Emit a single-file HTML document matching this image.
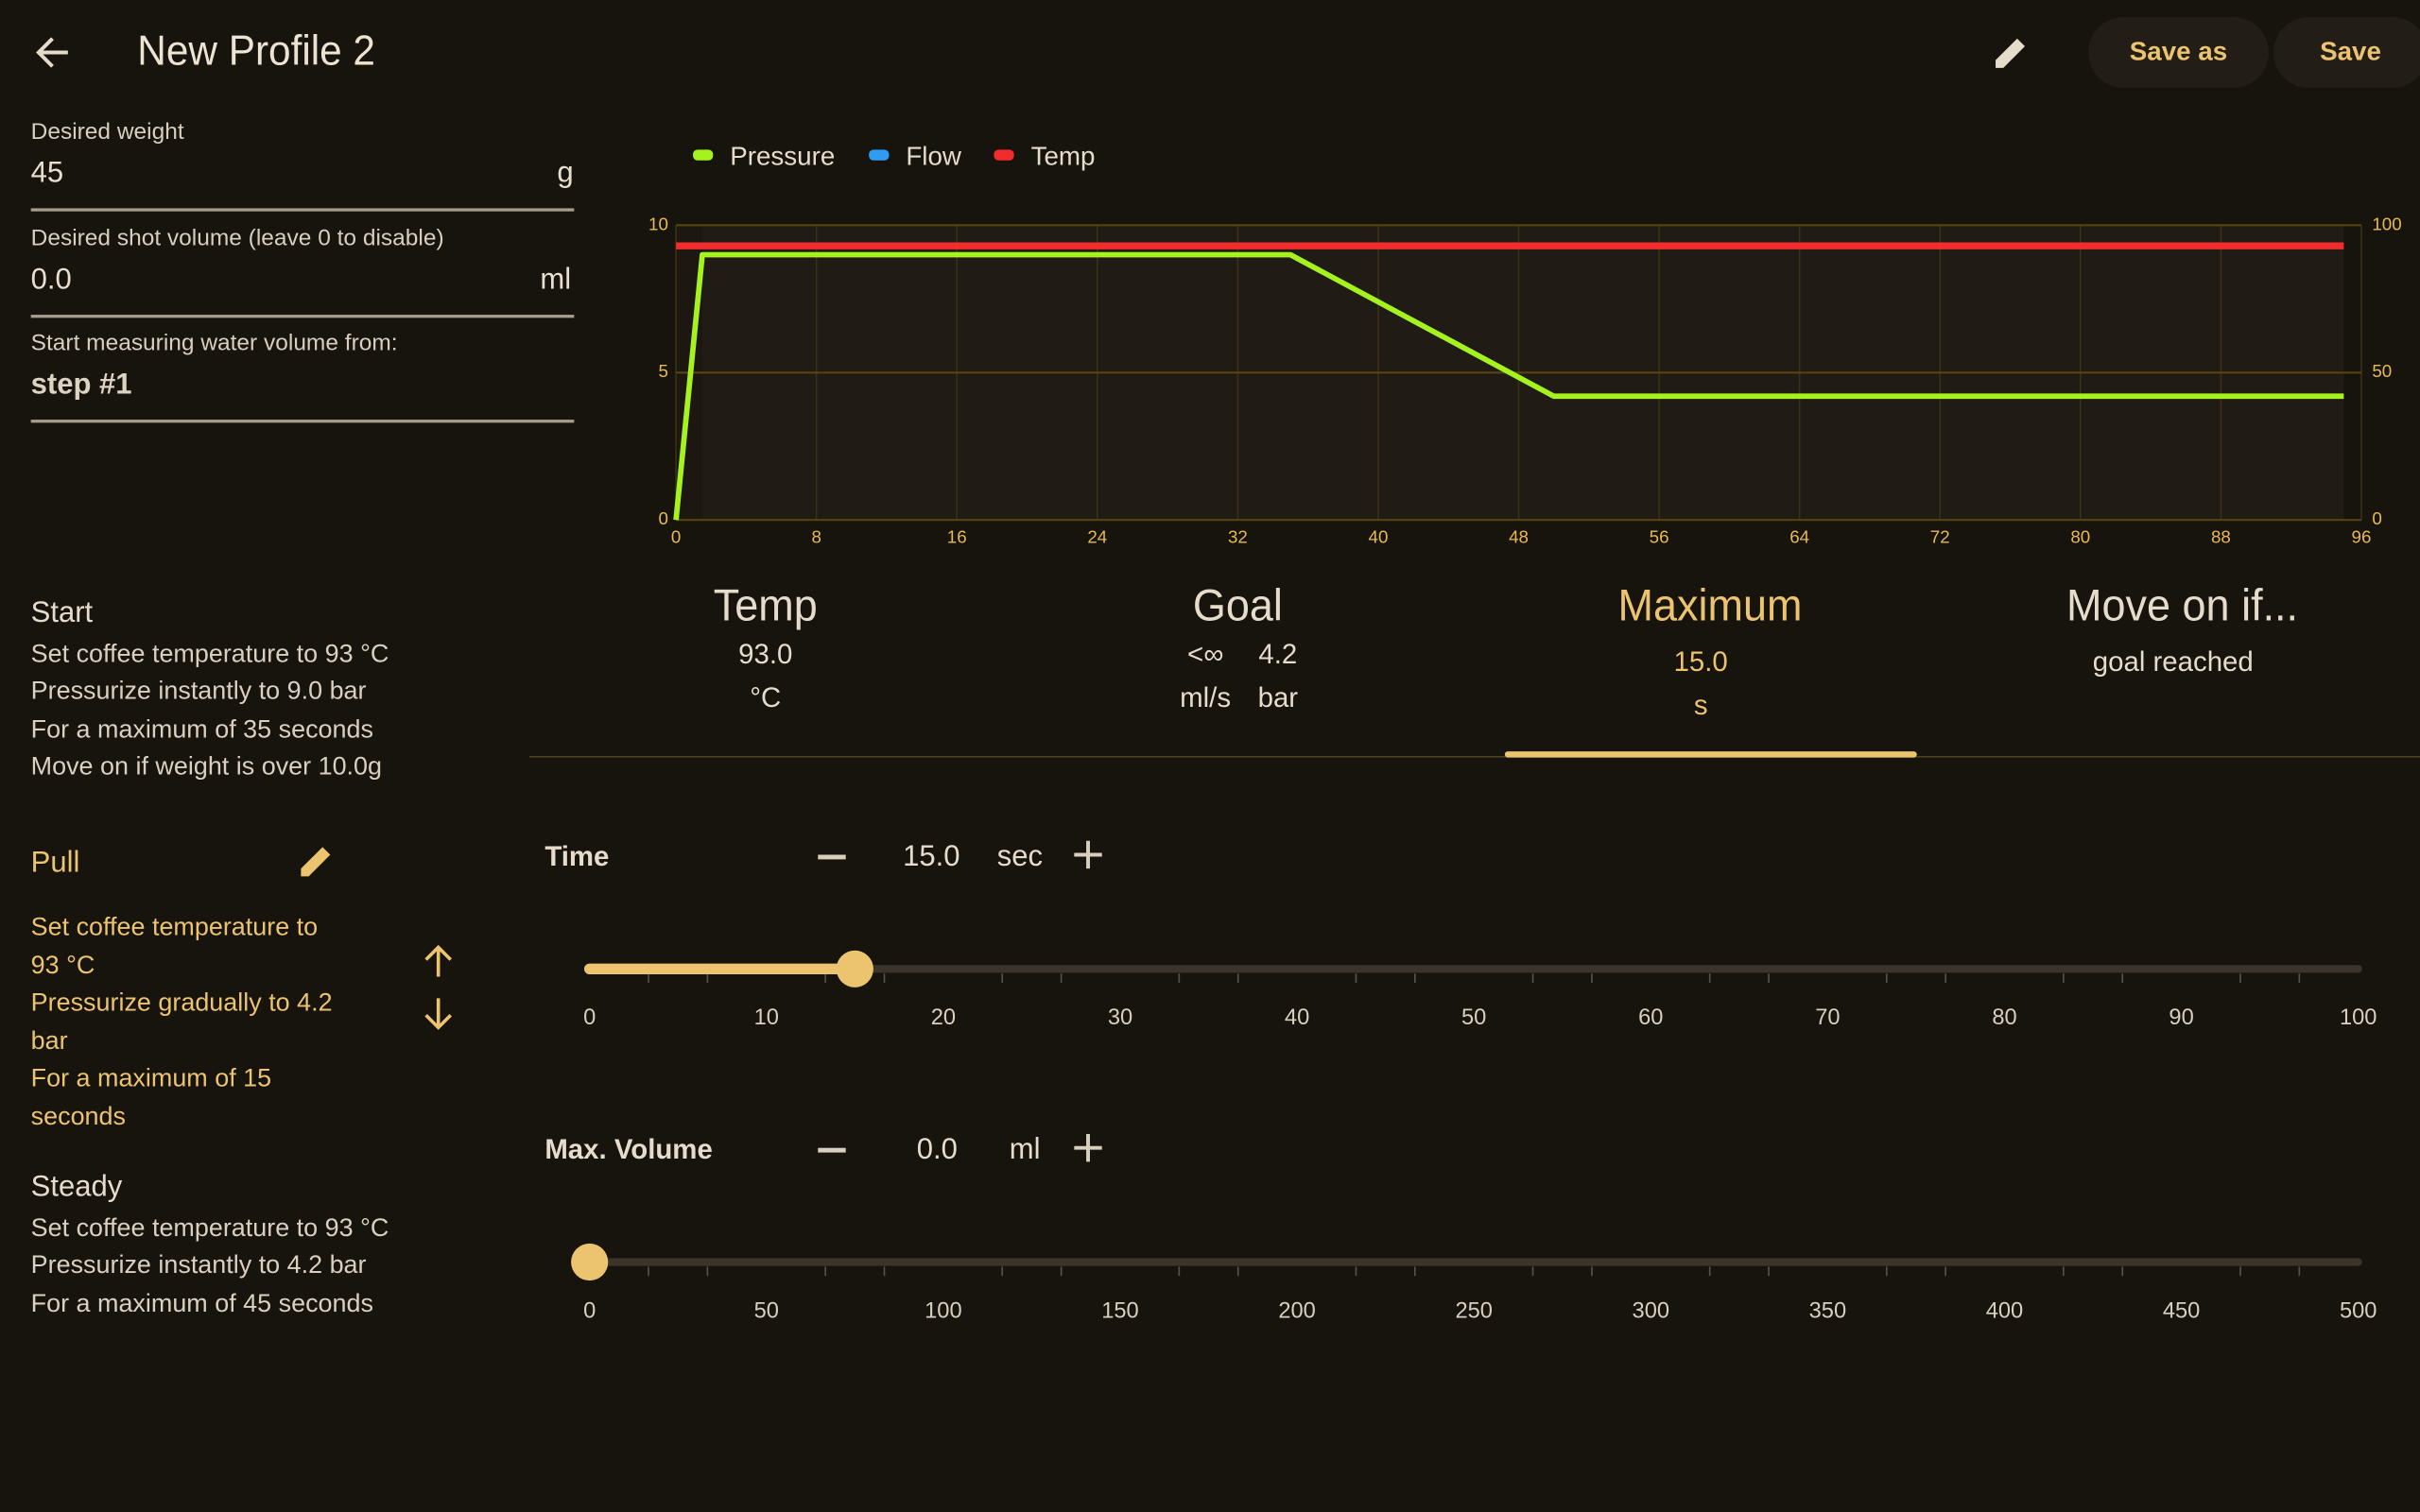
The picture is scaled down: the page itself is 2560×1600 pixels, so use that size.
<!DOCTYPE html>
<html><head><meta charset="utf-8"><style>
html,body{margin:0;padding:0;background:#17130d;overflow:hidden}
body{width:2560px;height:1600px}
#root{position:absolute;left:0;top:0;width:1568px;height:980px;transform:scale(1.63265);transform-origin:0 0;font-family:"Liberation Sans",sans-serif;color:#e6dccb}
.a{position:absolute;white-space:nowrap}
.lab{font-size:15px;color:#d8cfbf}
.val{font-size:19px;color:#e8dfcf}
.line{position:absolute;left:20px;width:352px;height:2px;background:#a79d8d}
.st{font-size:16.5px;color:#d9d0c0}
.gold{color:#ecc36e}
.tab{font-size:29px;text-align:center;transform:translateX(-50%) scaleX(0.95)}
.tv{font-size:18px;text-align:center;transform:translateX(-50%)}
.btn{position:absolute;top:11px;height:46px;border-radius:23px;background:#221d16;color:#ecc36e;font-size:17px;font-weight:bold;display:flex;align-items:center;justify-content:center}
.minus{position:absolute;width:18px;height:2.5px;background:#d8cfbf}
</style></head><body>
<div id="root">
<svg class="a" style="left:20px;top:20px" width="28" height="28"><path d="M24 14H5M14 5l-9 9 9 9" stroke="#e6dccb" stroke-width="2.4" fill="none"/></svg>
<div class="a" style="left:89px;top:18px;font-size:27px;color:#ece3d3;transform:scaleX(0.96);transform-origin:0 0">New Profile 2</div>
<svg class="a" style="left:1290px;top:21px" width="26" height="26"><path d="M3 23v-5L17 4l5 5L8 23z" fill="#e6dccb"/></svg>
<div class="btn" style="left:1353px;width:117px">Save as</div>
<div class="btn" style="left:1473px;width:100px">Save</div>

<div class="a lab" style="left:20px;top:77px">Desired weight</div>
<div class="a val" style="left:20px;top:102px">45</div>
<div class="a val" style="left:361px;top:102px">g</div>
<div class="line" style="top:135px"></div>
<div class="a lab" style="left:20px;top:146px">Desired shot volume (leave 0 to disable)</div>
<div class="a val" style="left:20px;top:171px">0.0</div>
<div class="a val" style="left:350px;top:171px">ml</div>
<div class="line" style="top:204px"></div>
<div class="a lab" style="left:20px;top:214px">Start measuring water volume from:</div>
<div class="a val" style="left:20px;top:239px;font-weight:bold;color:#dcd3c3">step #1</div>
<div class="line" style="top:272px"></div>

<div class="a" style="left:20px;top:387px;font-size:19px">Start</div>
<div class="a st" style="left:20px;top:415px">Set coffee temperature to 93 °C</div>
<div class="a st" style="left:20px;top:439px">Pressurize instantly to 9.0 bar</div>
<div class="a st" style="left:20px;top:464px">For a maximum of 35 seconds</div>
<div class="a st" style="left:20px;top:488px">Move on if weight is over 10.0g</div>
<div class="a gold" style="left:20px;top:549px;font-size:19px">Pull</div>
<svg class="a" style="left:192px;top:545px" width="26" height="26"><path d="M3 23v-5L17 4l5 5L8 23z" fill="#ecc36e"/></svg>
<div class="a st gold" style="left:20px;top:589px;line-height:24.5px">Set coffee temperature to<br>93 °C<br>Pressurize gradually to 4.2<br>bar<br>For a maximum of 15<br>seconds</div>
<svg class="a" style="left:273px;top:611px" width="22" height="24"><path d="M11 22V3M3 11l8-8 8 8" stroke="#ecc36e" stroke-width="2.2" fill="none"/></svg>
<svg class="a" style="left:273px;top:645px" width="22" height="24"><path d="M11 2v19M3 13l8 8 8-8" stroke="#ecc36e" stroke-width="2.2" fill="none"/></svg>
<div class="a" style="left:20px;top:759px;font-size:19px">Steady</div>
<div class="a st" style="left:20px;top:787px">Set coffee temperature to 93 °C</div>
<div class="a st" style="left:20px;top:811px">Pressurize instantly to 4.2 bar</div>
<div class="a st" style="left:20px;top:836px">For a maximum of 45 seconds</div>

<svg id="chart" class="a" style="left:0;top:0" width="1568" height="370"></svg>

<div class="a tab" style="left:496px;top:377px">Temp</div>
<div class="a tv" style="left:496px;top:414px">93.0</div>
<div class="a tv" style="left:496px;top:442px">°C</div>
<div class="a tab" style="left:802px;top:377px">Goal</div>
<div class="a tv" style="left:781px;top:414px">&lt;∞</div>
<div class="a tv" style="left:828px;top:414px">4.2</div>
<div class="a tv" style="left:781px;top:442px">ml/s</div>
<div class="a tv" style="left:828px;top:442px">bar</div>
<div class="a tab gold" style="left:1108px;top:377px">Maximum</div>
<div class="a tv gold" style="left:1102px;top:419px">15.0</div>
<div class="a tv gold" style="left:1102px;top:447px">s</div>
<div class="a tab" style="left:1414px;top:377px">Move on if...</div>
<div class="a tv" style="left:1408px;top:419px">goal reached</div>
<div class="a" style="left:343px;top:490px;width:1225px;height:1px;background:#4a4024"></div>
<div class="a" style="left:975px;top:487px;width:267px;height:4px;border-radius:2px;background:#ecc36e"></div>

<div class="a" style="left:353px;top:545px;font-size:18px;font-weight:bold">Time</div>
<div class="minus" style="left:530px;top:554px"></div>
<div class="a" style="left:585px;top:545px;font-size:19px">15.0</div>
<div class="a" style="left:646px;top:545px;font-size:19px">sec</div>
<svg class="a" style="left:695px;top:544px" width="20" height="20"><path d="M10 1v18M1 10h18" stroke="#d8cfbf" stroke-width="2.4"/></svg>
<div class="a" style="left:353px;top:735px;font-size:18px;font-weight:bold">Max. Volume</div>
<div class="minus" style="left:530px;top:744px"></div>
<div class="a" style="left:594px;top:735px;font-size:19px">0.0</div>
<div class="a" style="left:654px;top:735px;font-size:19px">ml</div>
<svg class="a" style="left:695px;top:734px" width="20" height="20"><path d="M10 1v18M1 10h18" stroke="#d8cfbf" stroke-width="2.4"/></svg>
<svg id="sliders" class="a" style="left:0;top:600px" width="1568" height="270"></svg>
</div>
<script>
const ns='http://www.w3.org/2000/svg';
function mk(p,t,a){const e=document.createElementNS(ns,t);for(const k in a)e.setAttribute(k,a[k]);p.appendChild(e);return e;}
// chart data
const xTicks=[0,8,16,24,32,40,48,56,64,72,80,88,96];
const yTicksLeft=[0,5,10];
const yTicksRight=[0,50,100];
const pressureT=[0,1.5,35,50,95];
const pressureV=[0,9,9,4.2,4.2];
const tempT=[0,95];
const tempV=[93,93];
const X0=438,X1=1530,Y0=337,Y1=146;
const xs=t=>X0+(t/96)*(X1-X0);
const yl=v=>Y0-(v/10)*(Y0-Y1);
const yr=v=>Y0-(v/100)*(Y0-Y1);
const c=document.getElementById('chart');
let e=mk(c,'rect',{x:xs(0),y:Y1,width:xs(95)-xs(0),height:Y0-Y1,fill:'#1c1710'});

e=mk(c,'rect',{x:xs(1.5),y:Y1,width:xs(95)-xs(1.5),height:Y0-Y1,fill:'#201b14'});

xTicks.forEach(t=>{
 let g=mk(c,'line',{x1:xs(t),x2:xs(t),y1:Y1,y2:Y0,stroke:'#3a3016','stroke-width':1});
 
 let tx=mk(c,'text',{x:xs(t),y:Y0+15,'text-anchor':'middle','font-size':11.5,fill:'#e8b955','font-family':'Liberation Sans, sans-serif'});tx.textContent=t;
 
});
yTicksLeft.forEach((v,i)=>{
 let g=mk(c,'line',{x1:X0,x2:X1,y1:yl(v),y2:yl(v),stroke:'#57440f','stroke-width':1.3});
 
 let tx=mk(c,'text',{x:X0-5,y:yl(v)+3,'text-anchor':'end','font-size':11.5,fill:'#e8b955','font-family':'Liberation Sans, sans-serif'});tx.textContent=v;
 
 let tr=mk(c,'text',{x:X1+7,y:yr(yTicksRight[i])+3,'font-size':11.5,fill:'#e8b955','font-family':'Liberation Sans, sans-serif'});tr.textContent=yTicksRight[i];
 
});
e=mk(c,'polyline',{points:tempT.map((t,i)=>xs(t)+','+yr(tempV[i])).join(' '),stroke:'#f22c2c','stroke-width':4.5,fill:'none'});

e=mk(c,'polyline',{points:pressureT.map((t,i)=>xs(t)+','+yl(pressureV[i])).join(' '),stroke:'#a6f21f','stroke-width':3.5,fill:'none','stroke-linejoin':'round'});

const legNames=['Pressure','Flow','Temp'],legCols=['#a6f21f','#2f9bf2','#f22c2c'],legX=[449,563,644];
legNames.forEach((n,i)=>{
 let r=mk(c,'rect',{x:legX[i],y:97,width:13,height:7,rx:3,fill:legCols[i]});
 
 let t=mk(c,'text',{x:legX[i]+24,y:107,'font-size':17,fill:'#e6dccb','font-family':'Liberation Sans, sans-serif'});t.textContent=n;
 
});
// sliders
const timeLabels=[0,10,20,30,40,50,60,70,80,90,100];
const volLabels=[0,50,100,150,200,250,300,350,400,450,500];
const timeValue=15, volValue=0;
const S0=382,S1=1528;
const s=document.getElementById('sliders');
function slider(cy,labels,val,name){
 const max=labels[labels.length-1];
 const sx=v=>S0+(v/max)*(S1-S0);
 let t=mk(s,'line',{x1:S0,x2:S1,y1:cy,y2:cy,stroke:'#3a342b','stroke-width':5,'stroke-linecap':'round'});
 
 for(let i=1;i<30;i++){if(i%3==0)continue;const x=S0+i*(S1-S0)/30;
  let k=mk(s,'line',{x1:x,x2:x,y1:cy+3,y2:cy+9,stroke:'#5a5246','stroke-width':1});
  }
 if(val>0){let a=mk(s,'line',{x1:S0,x2:sx(val),y1:cy,y2:cy,stroke:'#ecc36e','stroke-width':7,'stroke-linecap':'round'});
  }
 let th=mk(s,'circle',{cx:sx(val),cy:cy,r:12,fill:'#ecc36e'});
 
 labels.forEach(l=>{let tx=mk(s,'text',{x:sx(l),y:cy+36,'text-anchor':'middle','font-size':14.5,fill:'#d8cfbf','font-family':'Liberation Sans, sans-serif'});tx.textContent=l;
  });
}
slider(28,timeLabels,timeValue,'time-slider');
slider(218,volLabels,volValue,'volume-slider');
</script>
</body></html>
